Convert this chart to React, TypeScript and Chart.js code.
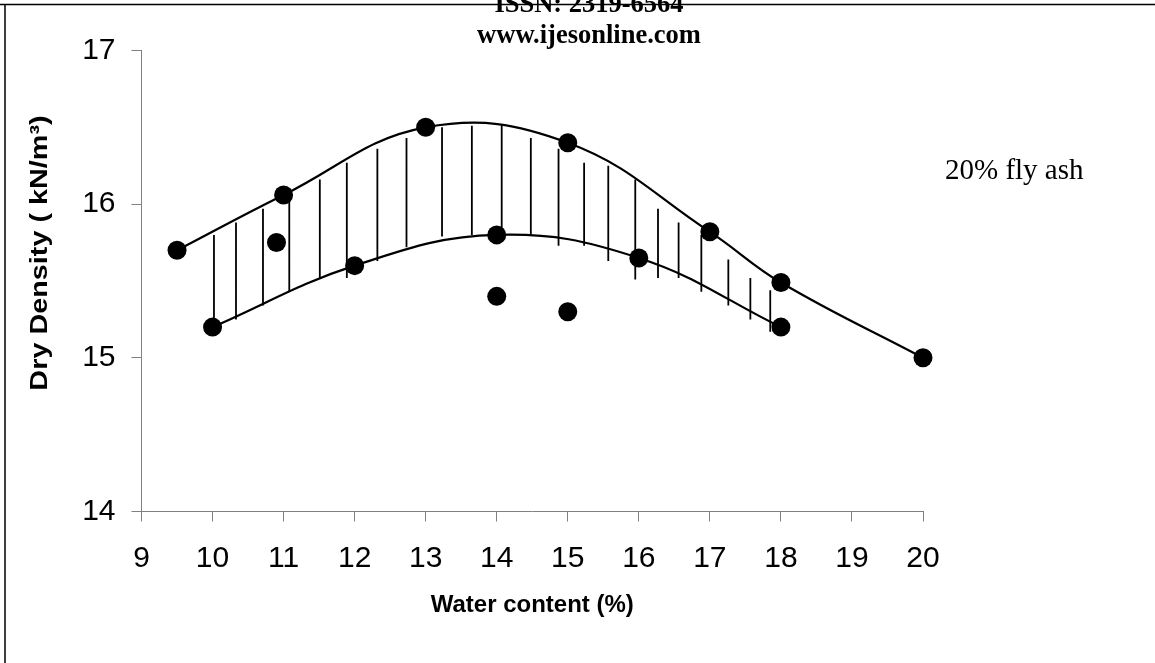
import React, { useEffect, useRef } from "react";
import { Chart, registerables } from "chart.js";

Chart.register(...registerables);

// ---- data ----
const markerX = [9.5, 10, 10.9, 11, 12, 13, 14, 14, 15, 15, 16, 17, 18, 18, 20];
const markerY = [15.7, 15.2, 15.75, 16.06, 15.6, 16.5, 15.8, 15.4, 16.4, 15.3, 15.65, 15.82, 15.49, 15.2, 15.0];

const upperX = [9.5, 11, 13, 15, 17, 18, 20];
const upperY = [15.7, 16.06, 16.5, 16.4, 15.82, 15.49, 15.0];

const lowerX = [10, 12, 14, 16, 18];
const lowerY = [15.2, 15.6, 15.8, 15.65, 15.2];

const hatchX = [10.02, 10.33, 10.71, 11.08, 11.51, 11.89, 12.32, 12.73, 13.23, 13.65, 14.07, 14.48, 14.87, 15.23, 15.57, 15.95, 16.27, 16.56, 16.88, 17.26, 17.57, 17.85];
const hatchTop = [15.8, 15.88, 15.97, 16.03, 16.16, 16.27, 16.36, 16.43, 16.5, 16.51, 16.52, 16.43, 16.36, 16.27, 16.25, 16.16, 15.97, 15.88, 15.8, 15.64, 15.52, 15.44];
const hatchBottom = [15.23, 15.25, 15.34, 15.43, 15.52, 15.52, 15.63, 15.72, 15.79, 15.8, 15.81, 15.8, 15.73, 15.73, 15.63, 15.51, 15.52, 15.52, 15.43, 15.34, 15.25, 15.17];

const xTickValues = [9, 10, 11, 12, 13, 14, 15, 16, 17, 18, 19, 20];
const yTickValues = [14, 15, 16, 17];

const xTitle = "Water content (%)";
const yTitle = "Dry Density ( kN/m³)";
const annotationText = "20% fly ash";
const headerLines = ["ISSN: 2319-6564", "www.ijesonline.com"];

const SANS = "'Liberation Sans', Arial, sans-serif";
const SERIF = "'Liberation Serif', 'Times New Roman', serif";

const decorPlugin = {
  id: "decor",
  afterDraw(chart: any) {
    const ctx = chart.ctx;
    ctx.save();
    // frame lines (top and left)
    ctx.strokeStyle = "#000";
    ctx.lineWidth = 1.5;
    ctx.beginPath();
    ctx.moveTo(0, 4.5);
    ctx.lineTo(chart.width, 4.5);
    ctx.moveTo(5, 4.5);
    ctx.lineTo(5, chart.height);
    ctx.stroke();

    // header
    ctx.fillStyle = "#000";
    ctx.textAlign = "center";
    ctx.textBaseline = "alphabetic";
    ctx.font = `bold 26.5px ${SERIF}`;
    ctx.fillText(headerLines[0], 589, 12);
    ctx.fillText(headerLines[1], 589, 43);

    // annotation
    ctx.textAlign = "left";
    ctx.font = `29px ${SERIF}`;
    ctx.fillText(annotationText, 945, 179);

    // y title
    ctx.translate(40, 253);
    ctx.rotate(-Math.PI / 2);
    ctx.scale(1.2, 1);
    ctx.textAlign = "center";
    ctx.textBaseline = "middle";
    ctx.font = `bold 24px ${SANS}`;
    ctx.fillText(yTitle, 0, 0);
    ctx.restore();
  },
};

export default function App() {
  const ref = useRef<HTMLCanvasElement | null>(null);

  useEffect(() => {
    if (!ref.current) return;
    const markers = markerX.map((x, i) => ({ x, y: markerY[i] }));
    const upper = upperX.map((x, i) => ({ x, y: upperY[i] }));
    const lower = lowerX.map((x, i) => ({ x, y: lowerY[i] }));
    const hatch: any[] = [];
    hatchX.forEach((x, i) => {
      hatch.push({ x, y: hatchTop[i] });
      hatch.push({ x, y: hatchBottom[i] });
      hatch.push({ x, y: null });
    });

    const chart = new Chart(ref.current, {
      type: "scatter",
      data: {
        datasets: [
          {
            label: "points",
            data: markers,
            showLine: false,
            pointRadius: 9.5,
            pointHoverRadius: 9.5,
            pointBackgroundColor: "#000",
            pointBorderWidth: 0,
            borderColor: "#000",
            backgroundColor: "#000",
            clip: false,
          },
          {
            label: "upper",
            data: upper,
            showLine: true,
            tension: 0.4,
            borderColor: "#000",
            borderWidth: 2.2,
            pointRadius: 0,
            clip: false,
          },
          {
            label: "lower",
            data: lower,
            showLine: true,
            tension: 0.4,
            borderColor: "#000",
            borderWidth: 2.2,
            pointRadius: 0,
            clip: false,
          },
          {
            label: "hatch",
            data: hatch,
            showLine: true,
            spanGaps: false,
            tension: 0,
            borderColor: "#000",
            borderWidth: 1.8,
            pointRadius: 0,
            clip: false,
          },
        ],
      } as any,
      options: {
        animation: false,
        responsive: false,
        layout: { padding: { left: 0, top: 50.5, right: 232, bottom: 0 } },
        plugins: { legend: { display: false }, tooltip: { enabled: false } },
        scales: {
          x: {
            type: "linear",
            min: 9,
            max: 20,
            afterBuildTicks: (s: any) => {
              s.ticks = xTickValues.map((v) => ({ value: v }));
            },
            afterFit: (s: any) => {
              s.height = 151.5;
            },
            border: { display: true, color: "#808080", width: 1 },
            grid: { drawOnChartArea: false, drawTicks: true, tickLength: 10, color: "#808080" },
            ticks: { color: "#000", font: { family: SANS, size: 30 }, padding: 19, maxRotation: 0 },
            title: {
              display: true,
              text: xTitle,
              color: "#000",
              font: { family: SANS, size: 24, weight: "bold" },
              padding: { top: 0, bottom: 43 },
            },
          },
          y: {
            type: "linear",
            min: 14,
            max: 17,
            afterBuildTicks: (s: any) => {
              s.ticks = yTickValues.map((v) => ({ value: v }));
            },
            afterFit: (s: any) => {
              s.width = 141.5;
            },
            border: { display: true, color: "#808080", width: 1 },
            grid: { drawOnChartArea: false, drawTicks: true, tickLength: 10, color: "#808080" },
            ticks: { color: "#000", font: { family: SANS, size: 30 }, padding: 16 },
            title: { display: false },
          },
        },
      } as any,
      plugins: [decorPlugin],
    });
    return () => chart.destroy();
  }, []);

  return (
    <div style={{ position: "fixed", left: 0, top: 0, width: 1155, height: 663, background: "#fff" }}>
      <canvas ref={ref} width={1155} height={663} style={{ display: "block" }} />
    </div>
  );
}
